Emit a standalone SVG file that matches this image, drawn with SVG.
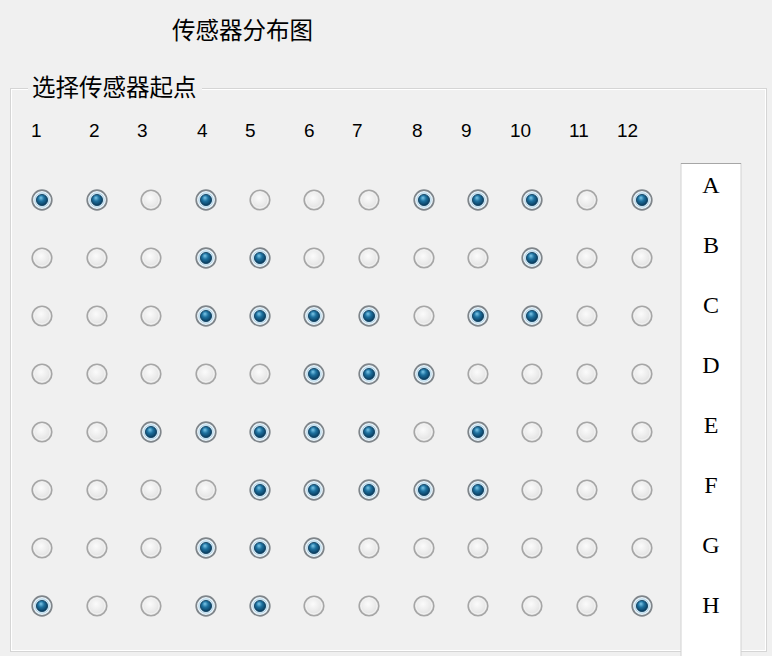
<svg xmlns="http://www.w3.org/2000/svg" width="772" height="656" viewBox="0 0 772 656">
<style>
.cn{font-family:"Noto Sans CJK SC","Noto Sans",sans-serif;font-size:23.5px;fill:#000}
.num{font-family:"Liberation Sans",Arial,sans-serif;font-size:19px;fill:#000}
.let{font-family:"Liberation Serif","Times New Roman",serif;font-size:24px;fill:#000;text-anchor:middle}
</style>
<defs>
<radialGradient id="gOff" cx="45%" cy="40%" r="60%">
<stop offset="0" stop-color="#fbfbfb"/><stop offset="1" stop-color="#e0e0e0"/>
</radialGradient>
<radialGradient id="gOn" cx="45%" cy="40%" r="60%" fx="40%" fy="30%">
<stop offset="0" stop-color="#7cc8ea"/><stop offset="0.45" stop-color="#1d719f"/><stop offset="1" stop-color="#093a5c"/>
</radialGradient>
<g id="off">
<circle r="9.8" fill="url(#gOff)" stroke="#a6a6a6" stroke-width="1.6"/>
<circle r="7.9" fill="none" stroke="#f2f2f2" stroke-width="1"/>
</g>
<g id="on">
<circle r="9.8" fill="#eaf4fa" stroke="#7f858a" stroke-width="1.7"/>
<circle r="7.2" fill="#d6eaf6" stroke="#a8cde2" stroke-width="0.8"/>
<circle r="5.6" fill="url(#gOn)" stroke="#0a3b5b" stroke-width="0.8"/>
</g>
</defs>
<rect width="772" height="656" fill="#f0f0f0"/>
<g id="title"><text class="cn" x="172" y="39">传感器分布图</text></g>
<g id="groupbox">
<rect x="10.5" y="88.5" width="756" height="563" fill="none" stroke="#d5d5d5" stroke-width="1"/>
<rect x="11.5" y="89.5" width="754" height="561" fill="none" stroke="#ffffff" stroke-width="1"/>
<rect x="28" y="74" width="174" height="26" fill="#f0f0f0"/>
<text class="cn" x="32" y="96">选择传感器起点</text>
</g>
<g id="colLabels">
<text class="num" x="31" y="137">1</text>
<text class="num" x="89" y="137">2</text>
<text class="num" x="137" y="137">3</text>
<text class="num" x="197" y="137">4</text>
<text class="num" x="245" y="137">5</text>
<text class="num" x="304" y="137">6</text>
<text class="num" x="352" y="137">7</text>
<text class="num" x="412" y="137">8</text>
<text class="num" x="461" y="137">9</text>
<text class="num" x="510" y="137">10</text>
<text class="num" x="569" y="137">11</text>
<text class="num" x="617" y="137">12</text>
</g>
<g id="rowPanel">
<rect x="681" y="163.5" width="60" height="500" fill="#ffffff" stroke="#d2d2d2" stroke-width="1"/>
<line x1="681" y1="163.5" x2="741" y2="163.5" stroke="#a6a6a6" stroke-width="1.2"/>
<text class="let" x="711" y="193">A</text>
<text class="let" x="711" y="253">B</text>
<text class="let" x="711" y="313">C</text>
<text class="let" x="711" y="373">D</text>
<text class="let" x="711" y="433">E</text>
<text class="let" x="711" y="493">F</text>
<text class="let" x="711" y="553">G</text>
<text class="let" x="711" y="613">H</text>
</g>
<g id="rowA">
<use id="A1" href="#on" x="42" y="200"/><use id="A2" href="#on" x="97" y="200"/><use id="A3" href="#off" x="151" y="200"/><use id="A4" href="#on" x="206" y="200"/><use id="A5" href="#off" x="260" y="200"/><use id="A6" href="#off" x="314" y="200"/><use id="A7" href="#off" x="369" y="200"/><use id="A8" href="#on" x="424" y="200"/><use id="A9" href="#on" x="478" y="200"/><use id="A10" href="#on" x="532" y="200"/><use id="A11" href="#off" x="587" y="200"/><use id="A12" href="#on" x="642" y="200"/>
</g>
<g id="rowB">
<use id="B1" href="#off" x="42" y="258"/><use id="B2" href="#off" x="97" y="258"/><use id="B3" href="#off" x="151" y="258"/><use id="B4" href="#on" x="206" y="258"/><use id="B5" href="#on" x="260" y="258"/><use id="B6" href="#off" x="314" y="258"/><use id="B7" href="#off" x="369" y="258"/><use id="B8" href="#off" x="424" y="258"/><use id="B9" href="#off" x="478" y="258"/><use id="B10" href="#on" x="532" y="258"/><use id="B11" href="#off" x="587" y="258"/><use id="B12" href="#off" x="642" y="258"/>
</g>
<g id="rowC">
<use id="C1" href="#off" x="42" y="316"/><use id="C2" href="#off" x="97" y="316"/><use id="C3" href="#off" x="151" y="316"/><use id="C4" href="#on" x="206" y="316"/><use id="C5" href="#on" x="260" y="316"/><use id="C6" href="#on" x="314" y="316"/><use id="C7" href="#on" x="369" y="316"/><use id="C8" href="#off" x="424" y="316"/><use id="C9" href="#on" x="478" y="316"/><use id="C10" href="#on" x="532" y="316"/><use id="C11" href="#off" x="587" y="316"/><use id="C12" href="#off" x="642" y="316"/>
</g>
<g id="rowD">
<use id="D1" href="#off" x="42" y="374"/><use id="D2" href="#off" x="97" y="374"/><use id="D3" href="#off" x="151" y="374"/><use id="D4" href="#off" x="206" y="374"/><use id="D5" href="#off" x="260" y="374"/><use id="D6" href="#on" x="314" y="374"/><use id="D7" href="#on" x="369" y="374"/><use id="D8" href="#on" x="424" y="374"/><use id="D9" href="#off" x="478" y="374"/><use id="D10" href="#off" x="532" y="374"/><use id="D11" href="#off" x="587" y="374"/><use id="D12" href="#off" x="642" y="374"/>
</g>
<g id="rowE">
<use id="E1" href="#off" x="42" y="432"/><use id="E2" href="#off" x="97" y="432"/><use id="E3" href="#on" x="151" y="432"/><use id="E4" href="#on" x="206" y="432"/><use id="E5" href="#on" x="260" y="432"/><use id="E6" href="#on" x="314" y="432"/><use id="E7" href="#on" x="369" y="432"/><use id="E8" href="#off" x="424" y="432"/><use id="E9" href="#on" x="478" y="432"/><use id="E10" href="#off" x="532" y="432"/><use id="E11" href="#off" x="587" y="432"/><use id="E12" href="#off" x="642" y="432"/>
</g>
<g id="rowF">
<use id="F1" href="#off" x="42" y="490"/><use id="F2" href="#off" x="97" y="490"/><use id="F3" href="#off" x="151" y="490"/><use id="F4" href="#off" x="206" y="490"/><use id="F5" href="#on" x="260" y="490"/><use id="F6" href="#on" x="314" y="490"/><use id="F7" href="#on" x="369" y="490"/><use id="F8" href="#on" x="424" y="490"/><use id="F9" href="#on" x="478" y="490"/><use id="F10" href="#off" x="532" y="490"/><use id="F11" href="#off" x="587" y="490"/><use id="F12" href="#off" x="642" y="490"/>
</g>
<g id="rowG">
<use id="G1" href="#off" x="42" y="548"/><use id="G2" href="#off" x="97" y="548"/><use id="G3" href="#off" x="151" y="548"/><use id="G4" href="#on" x="206" y="548"/><use id="G5" href="#on" x="260" y="548"/><use id="G6" href="#on" x="314" y="548"/><use id="G7" href="#off" x="369" y="548"/><use id="G8" href="#off" x="424" y="548"/><use id="G9" href="#off" x="478" y="548"/><use id="G10" href="#off" x="532" y="548"/><use id="G11" href="#off" x="587" y="548"/><use id="G12" href="#off" x="642" y="548"/>
</g>
<g id="rowH">
<use id="H1" href="#on" x="42" y="606"/><use id="H2" href="#off" x="97" y="606"/><use id="H3" href="#off" x="151" y="606"/><use id="H4" href="#on" x="206" y="606"/><use id="H5" href="#on" x="260" y="606"/><use id="H6" href="#off" x="314" y="606"/><use id="H7" href="#off" x="369" y="606"/><use id="H8" href="#off" x="424" y="606"/><use id="H9" href="#off" x="478" y="606"/><use id="H10" href="#off" x="532" y="606"/><use id="H11" href="#off" x="587" y="606"/><use id="H12" href="#on" x="642" y="606"/>
</g>
</svg>
